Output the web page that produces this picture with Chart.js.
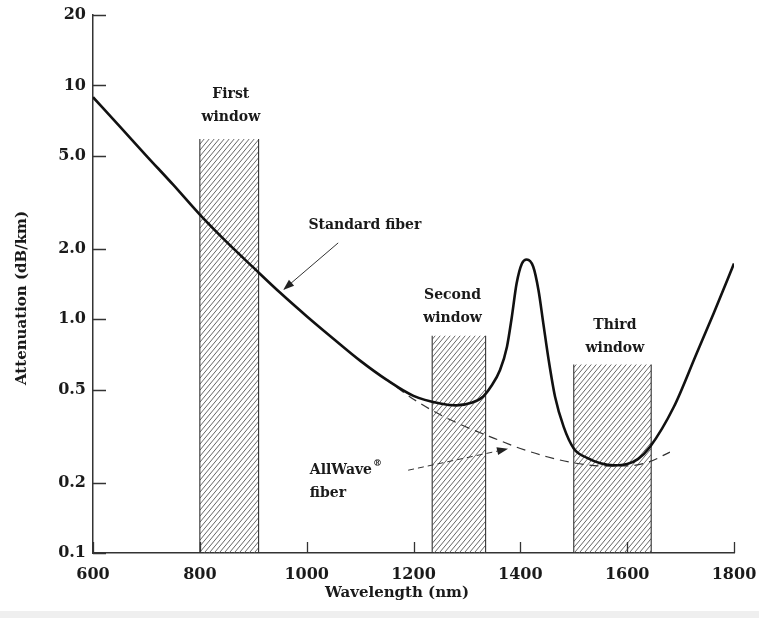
<!DOCTYPE html>
<html>
<head>
<meta charset="utf-8">
<title>Fiber attenuation</title>
<script src="https://cdn.jsdelivr.net/npm/chart.js@4.4.0/dist/chart.umd.min.js"></script>
<style>
  html, body { margin: 0; padding: 0; background: #fff; }
  #wrap { width: 759px; height: 618px; }
</style>
</head>
<body>
<div id="wrap"><canvas id="attenuation-chart" width="759" height="618"></canvas></div>
<script>
// standard fiber
const wavelength = [600, 650, 700, 750, 800, 850, 900, 950, 1000, 1050, 1100, 1150, 1200, 1250, 1280, 1310, 1330, 1345, 1362, 1375, 1384, 1393, 1403, 1412, 1424, 1434, 1443, 1453, 1465, 1481, 1500, 1525, 1550, 1575, 1600, 1620, 1643, 1687, 1730, 1762, 1800]
const standardFiber = [8.9, 6.68, 5.0, 3.76, 2.80, 2.14, 1.665, 1.30, 1.03, 0.825, 0.665, 0.55, 0.47, 0.436, 0.428, 0.44, 0.466, 0.515, 0.606, 0.763, 1.02, 1.42, 1.73, 1.80, 1.68, 1.33, 0.96, 0.67, 0.466, 0.347, 0.28, 0.255, 0.242, 0.237, 0.24, 0.252, 0.285, 0.42, 0.714, 1.06, 1.73]

// AllWave fiber (dashed), splits off the standard curve near 1100 nm
const allwaveWavelength = [1100, 1150, 1200, 1250, 1300, 1350, 1400, 1450, 1500, 1550, 1600, 1640, 1680]
const allwaveFiber = [0.665, 0.55, 0.455, 0.39, 0.345, 0.31, 0.28, 0.258, 0.243, 0.236, 0.236, 0.245, 0.27]

// transmission windows
const windowNames = ['First', 'Second', 'Third']
const windowStart = [800, 1235, 1500]
const windowEnd = [910, 1335, 1645]
const windowTop = [5.9, 0.85, 0.64]

const xTicks = [600, 800, 1000, 1200, 1400, 1600, 1800]
const yTicks = [0.1, 0.2, 0.5, 1, 2, 5, 10, 20]
const yTickLabels = ['0.1', '0.2', '0.5', '1.0', '2.0', '5.0', '10', '20']

const serif = '"DejaVu Serif", "Liberation Serif", serif'
const ink = '#1a1a1a'

function hatchPattern() {
  const c = document.createElement('canvas')
  c.width = 5
  c.height = 6
  const g = c.getContext('2d')
  g.strokeStyle = '#555'
  g.lineWidth = 0.9
  g.beginPath()
  g.moveTo(-5, 12); g.lineTo(10, -6)
  g.moveTo(0, 12); g.lineTo(15, -6)
  g.moveTo(-10, 12); g.lineTo(5, -6)
  g.stroke()
  return g.createPattern(c, 'repeat')
}
const hatch = hatchPattern()

const windowSets = windowNames.map((name, i) => ({
  label: name + ' window',
  data: [
    {x: windowStart[i], y: yTicks[0]},
    {x: windowStart[i], y: windowTop[i]},
    {x: windowEnd[i], y: windowTop[i]},
    {x: windowEnd[i], y: yTicks[0]},
  ],
  borderWidth: 1.1,
  borderColor: '#333',
  segment: {
    borderColor: ctx => ctx.p0.parsed.y === ctx.p1.parsed.y ? 'rgba(0,0,0,0)' : '#333',
  },
  backgroundColor: hatch,
  fill: 'start',
  tension: 0,
  pointRadius: 0,
  order: 2,
}))

// text notes and arrows, anchored in data units
const notes = [
  {lines: ['First', 'window'], x: 858, y: 9.18, align: 'center'},
  {lines: ['Second', 'window'], x: 1273, y: 1.263, align: 'center'},
  {lines: ['Third', 'window'], x: 1577, y: 0.944, align: 'center'},
  {lines: ['Standard fiber'], x: 1109, y: 2.53, align: 'center'},
  {lines: ['AllWave', 'fiber'], x: 1006, y: 0.2265, align: 'left', sup: '®'},
]
const arrows = [
  {from: [1059, 2.12], to: [956, 1.334], dash: []},
  {from: [1190, 0.226], to: [1377, 0.279], dash: [6, 4]},
]

function arrow(ctx, x1, y1, x2, y2, dash) {
  const a = Math.atan2(y2 - y1, x2 - x1)
  const len = 11, half = 4
  ctx.save()
  ctx.strokeStyle = '#333'
  ctx.fillStyle = '#222'
  ctx.lineWidth = 1
  ctx.setLineDash(dash)
  ctx.beginPath()
  ctx.moveTo(x1, y1)
  ctx.lineTo(x2 - Math.cos(a) * len * 0.6, y2 - Math.sin(a) * len * 0.6)
  ctx.stroke()
  ctx.setLineDash([])
  ctx.beginPath()
  ctx.moveTo(x2, y2)
  ctx.lineTo(x2 - Math.cos(a) * len + Math.sin(a) * half, y2 - Math.sin(a) * len - Math.cos(a) * half)
  ctx.lineTo(x2 - Math.cos(a) * len - Math.sin(a) * half, y2 - Math.sin(a) * len + Math.cos(a) * half)
  ctx.closePath()
  ctx.fill()
  ctx.restore()
}

const decorations = {
  id: 'decorations',
  beforeDraw(chart) {
    const ctx = chart.ctx
    ctx.save()
    ctx.fillStyle = '#fff'
    ctx.fillRect(0, 0, chart.width, chart.height)
    ctx.fillStyle = '#efefef'
    ctx.fillRect(0, 611, chart.width, chart.height - 611)
    ctx.restore()
  },
  afterDraw(chart) {
    const ctx = chart.ctx
    const xs = chart.scales.x
    const ys = chart.scales.y
    const area = chart.chartArea
    ctx.save()

    // inward tick marks
    ctx.strokeStyle = '#333'
    ctx.lineWidth = 1.3
    ctx.beginPath()
    yTicks.forEach(v => {
      const py = Math.round(ys.getPixelForValue(v)) + 0.5
      ctx.moveTo(area.left, py)
      ctx.lineTo(area.left + 13, py)
    })
    xTicks.forEach(v => {
      const px = Math.round(xs.getPixelForValue(v)) + 0.5
      ctx.moveTo(px, area.bottom)
      ctx.lineTo(px, area.bottom - 11)
    })
    ctx.stroke()

    // axis titles
    ctx.fillStyle = ink
    ctx.font = 'bold 15px ' + serif
    ctx.textAlign = 'center'
    ctx.textBaseline = 'middle'
    ctx.fillText('Wavelength (nm)', 397, 593)
    ctx.save()
    ctx.translate(22, 298)
    ctx.rotate(-Math.PI / 2)
    ctx.fillText('Attenuation (dB/km)', 0, 0)
    ctx.restore()

    // notes
    ctx.font = 'bold 14px ' + serif
    notes.forEach(n => {
      const px = xs.getPixelForValue(n.x)
      const py = ys.getPixelForValue(n.y)
      ctx.textAlign = n.align
      n.lines.forEach((t, i) => {
        ctx.fillText(t, px, py + i * 23)
        if (n.sup && i === 0) {
          const w = ctx.measureText(t).width
          ctx.save()
          ctx.font = 'bold 9px ' + serif
          ctx.textAlign = 'left'
          ctx.fillText(n.sup, px + w + 1, py - 6)
          ctx.restore()
        }
      })
    })

    arrows.forEach(a => {
      arrow(ctx,
        xs.getPixelForValue(a.from[0]), ys.getPixelForValue(a.from[1]),
        xs.getPixelForValue(a.to[0]), ys.getPixelForValue(a.to[1]), a.dash)
    })
    ctx.restore()
  },
}

const config = {
  type: 'line',
  data: {
    datasets: [
      {
        label: 'Standard fiber',
        data: wavelength.map((w, i) => ({x: w, y: standardFiber[i]})),
        borderColor: '#111',
        borderWidth: 2.6,
        cubicInterpolationMode: 'monotone',
        pointRadius: 0,
        fill: false,
        order: 0,
      },
      {
        label: 'AllWave fiber',
        data: allwaveWavelength.map((w, i) => ({x: w, y: allwaveFiber[i]})),
        borderColor: '#333',
        borderWidth: 1.2,
        borderDash: [9, 6],
        cubicInterpolationMode: 'monotone',
        pointRadius: 0,
        fill: false,
        order: 1,
      },
      ...windowSets,
    ],
  },
  options: {
    responsive: false,
    animation: false,
    layout: {padding: {top: 15, right: 25, left: 0, bottom: 0}},
    plugins: {
      legend: {display: false},
      tooltip: {enabled: false},
    },
    scales: {
      x: {
        type: 'linear',
        min: xTicks[0],
        max: xTicks[xTicks.length - 1],
        afterBuildTicks: scale => { scale.ticks = xTicks.map(v => ({value: v})) },
        afterFit: scale => {
          scale.height = 65
          scale.paddingLeft = 0
          scale.paddingRight = 0
        },
        grid: {display: false, drawTicks: false},
        border: {display: true, color: '#333', width: 1.5},
        ticks: {
          autoSkip: false,
          maxRotation: 0,
          padding: 12,
          color: ink,
          font: {family: serif, size: 16, weight: 'bold'},
          callback: v => String(v),
        },
      },
      y: {
        type: 'logarithmic',
        min: yTicks[0],
        max: yTicks[yTicks.length - 1],
        afterBuildTicks: scale => { scale.ticks = yTicks.map(v => ({value: v})) },
        afterFit: scale => {
          scale.width = 93
          scale.paddingTop = 0
          scale.paddingBottom = 0
        },
        grid: {display: false, drawTicks: false},
        border: {display: true, color: '#333', width: 1.5},
        ticks: {
          autoSkip: false,
          padding: 7,
          color: ink,
          font: {family: serif, size: 16, weight: 'bold'},
          callback: (v, i) => yTickLabels[i],
        },
      },
    },
  },
  plugins: [decorations],
}

const attenuationChart = new Chart(document.getElementById('attenuation-chart'), config)
</script>
</body>
</html>
